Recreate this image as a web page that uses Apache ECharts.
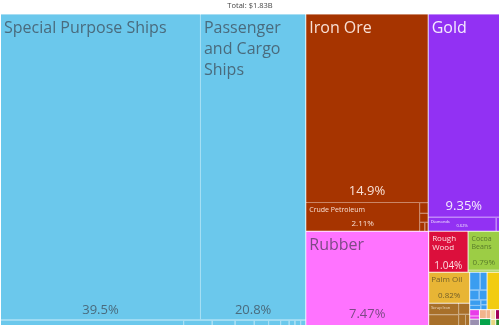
<!DOCTYPE html>
<html><head><meta charset="utf-8">
<script src="https://cdn.jsdelivr.net/npm/echarts@6/dist/echarts.min.js"></script>
<style>html,body{margin:0;padding:0;background:#fff}#c{width:500px;height:325px}</style>
</head><body><div id="c"></div>
<script>
// ---------------- DATA (values are % of total exports) ----------------
const totalLabel = 'Total: $1.83B';

const sectorNames = ['Transportation','Mineral Products','Precious Metals','Plastics and Rubbers',
  'Wood Products','Vegetable Products','Animal and Vegetable Bi-Products','Metals','Machines',
  'Foodstuffs','Chemical Products','Instruments','Animal Products','Textiles','Stone and Glass',
  'Miscellaneous','Paper Goods','Footwear and Headwear'];

const transportationNames = ['Special Purpose Ships','Passenger and Cargo Ships','Cars','Delivery Trucks','Tug Boats','Recreational Boats','Vehicle Parts','Motorcycles','Trailers','Buses','Tractors','Railway Cars'];
const transportationValues = [39.5, 20.8, 0.64, 0.10, 0.08, 0.067, 0.05, 0.042, 0.03, 0.02, 0.02, 0.018];

const mineralNames = ['Iron Ore','Crude Petroleum','Refined Petroleum','Manganese Ore','Gravel and Crushed Stone','Cement'];
const mineralValues = [14.9, 2.11, 0.06, 0.05, 0.03, 0.02];

const preciousNames = ['Gold','Diamonds','Jewellery'];
const preciousValues = [9.35, 0.62, 0.03];

const plasticNames = ['Rubber'];
const plasticValues = [7.47];

const woodNames = ['Rough Wood'];
const woodValues = [1.04];

const vegetableNames = ['Cocoa Beans','Coffee'];
const vegetableValues = [0.79, 0.04];

const animalVegNames = ['Palm Oil'];
const animalVegValues = [0.82];

const metalNames = ['Scrap Iron','Scrap Aluminium','Iron Structures','Scrap Copper','Raw Aluminium'];
const metalValues = [0.22, 0.21, 0.08, 0.05, 0.03];

const machineNames = ['Centrifuges','Engine Parts','Computers','Pumps','Valves','Generators','Transformers','Excavation Machinery'];
const machineValues = [0.12, 0.08, 0.06, 0.05, 0.04, 0.03, 0.02, 0.02];

const foodNames = ['Cocoa Paste'];
const foodValues = [0.30];

const chemicalNames = ['Soap','Packaged Medicaments'];
const chemicalValues = [0.04, 0.02];

const instrumentNames = ['Medical Instruments'];
const instrumentValues = [0.04];

const animalNames = ['Frozen Fish','Crustaceans'];
const animalValues = [0.04, 0.025];

const textileNames = ['Used Clothing'];
const textileValues = [0.05];

const stoneNames = ['Glass Bottles'];
const stoneValues = [0.03];

const miscNames = ['Furniture'];
const miscValues = [0.025];

const paperNames = ['Printed Matter'];
const paperValues = [0.02];

const footwearNames = ['Footwear Parts'];
const footwearValues = [0.015];

const groups = [
  [transportationNames, transportationValues], [mineralNames, mineralValues],
  [preciousNames, preciousValues], [plasticNames, plasticValues],
  [woodNames, woodValues], [vegetableNames, vegetableValues],
  [animalVegNames, animalVegValues], [metalNames, metalValues],
  [machineNames, machineValues], [foodNames, foodValues],
  [chemicalNames, chemicalValues], [instrumentNames, instrumentValues],
  [animalNames, animalValues], [textileNames, textileValues],
  [stoneNames, stoneValues], [miscNames, miscValues],
  [paperNames, paperValues], [footwearNames, footwearValues]
];

// ---------------- STYLES ----------------
const sectorColors = ['#6bc8ec','#a63400','#9231f3','#ff73ff','#dc0f3c','#9ccd45','#e8b535',
  '#a8702a','#3a9df0','#f2cc10','#e83ce8','#9a8fb0','#f2b48c','#05a34a','#f5dcb0','#a0005a','#e8d780','#2a8a2a'];
const textColors = ['#4a6b7d','rgba(255,238,230,0.92)','rgba(255,255,255,0.9)','#7d4a86',
  'rgba(255,240,240,0.92)','#587a2a','#74602a','rgba(255,245,230,0.85)'];

const bigName = {fontSize:16, lineHeight:21, padding:[3,3,1,3]};
const bigPct = {fontSize:13, padding:[0,0,4,0]};
const labelStyles = {
  'Special Purpose Ships': {name: bigName, pct: {fontSize:13, padding:[0,0,3,0]}},
  'Passenger and Cargo Ships': {name: bigName, pct: {fontSize:13, padding:[0,0,3,0]}},
  'Iron Ore': {name: bigName, pct: bigPct},
  'Gold': {name: bigName, pct: bigPct},
  'Rubber': {name: bigName, pct: bigPct},
  'Crude Petroleum': {name:{fontSize:7, lineHeight:9, padding:[2,3]}, pct:{fontSize:8, padding:[0,0,3,0]}},
  'Diamonds': {name:{fontSize:4, lineHeight:5, padding:[2,2]}, pct:{fontSize:4, padding:[0,0,3,0]}},
  'Rough Wood': {name:{fontSize:8, lineHeight:9, padding:[2,3]}, pct:{fontSize:10, padding:[0,0,1,0]}},
  'Cocoa Beans': {name:{fontSize:7, lineHeight:8, padding:[3,3]}, pct:{fontSize:8, padding:[0,0,3,0]}},
  'Palm Oil': {name:{fontSize:8, lineHeight:10, padding:[2,2], overflow:'none'}, pct:{fontSize:8, padding:[0,0,3,0]}},
  'Scrap Iron': {name:{fontSize:4, lineHeight:5, padding:[2,2]}}
};

function lighten(hex, t) {
  const n = parseInt(hex.slice(1), 16);
  const r = (n >> 16) & 255, g = (n >> 8) & 255, b = n & 255;
  const m = v => Math.round(v + (255 - v) * t);
  return 'rgb(' + m(r) + ',' + m(g) + ',' + m(b) + ')';
}
const clear = 'rgba(0,0,0,0)';

function build(mode) {
  return groups.map(([names, vals], si) => ({
    name: sectorNames[si],
    itemStyle: mode === 'name'
      ? {color: sectorColors[si], borderColor: lighten(sectorColors[si], 0.4)}
      : {color: clear, borderColor: clear},
    children: names.map((n, i) => {
      const node = {name: n, value: vals[i]};
      if (mode === 'pct') node.itemStyle = {color: clear, borderColor: clear};
      const st = labelStyles[n];
      if (st && st[mode]) {
        node.label = Object.assign({show: true, color: textColors[si] || '#333'}, st[mode]);
      }
      return node;
    })
  }));
}

const font = "'Open Sans', 'Noto Sans', sans-serif";
function series(mode) {
  return {
    type: 'treemap',
    left: 1, right: 1, top: 14.5, bottom: 0,
    roam: false, nodeClick: false, silent: mode === 'pct',
    breadcrumb: {show: false},
    sort: false,
    squareRatio: 1.5,
    visibleMin: 0,
    animation: false,
    upperLabel: {show: false},
    label: mode === 'name'
      ? {show: false, position: 'insideTopLeft', overflow: 'break', fontFamily: font, padding: [1, 3]}
      : {show: false, position: 'insideBottom', fontFamily: font, formatter: p => p.value + '%'},
    levels: [
      {itemStyle: {borderWidth: 0, gapWidth: 1, borderColor: mode === 'name' ? '#ffffff' : clear}},
      {itemStyle: {borderWidth: 0, gapWidth: 1}},
      {itemStyle: {borderWidth: 0, gapWidth: 0}}
    ],
    data: build(mode)
  };
}

const chart = echarts.init(document.getElementById('c'));
chart.setOption({
  animation: false,
  title: {text: totalLabel, left: 'center', top: 0, padding: [2, 0, 0, 0],
    textStyle: {fontSize: 7.5, fontWeight: 'normal', color: '#444', fontFamily: font}},
  tooltip: {show: false},
  series: [series('name'), series('pct')]
});
</script>
</body></html>
